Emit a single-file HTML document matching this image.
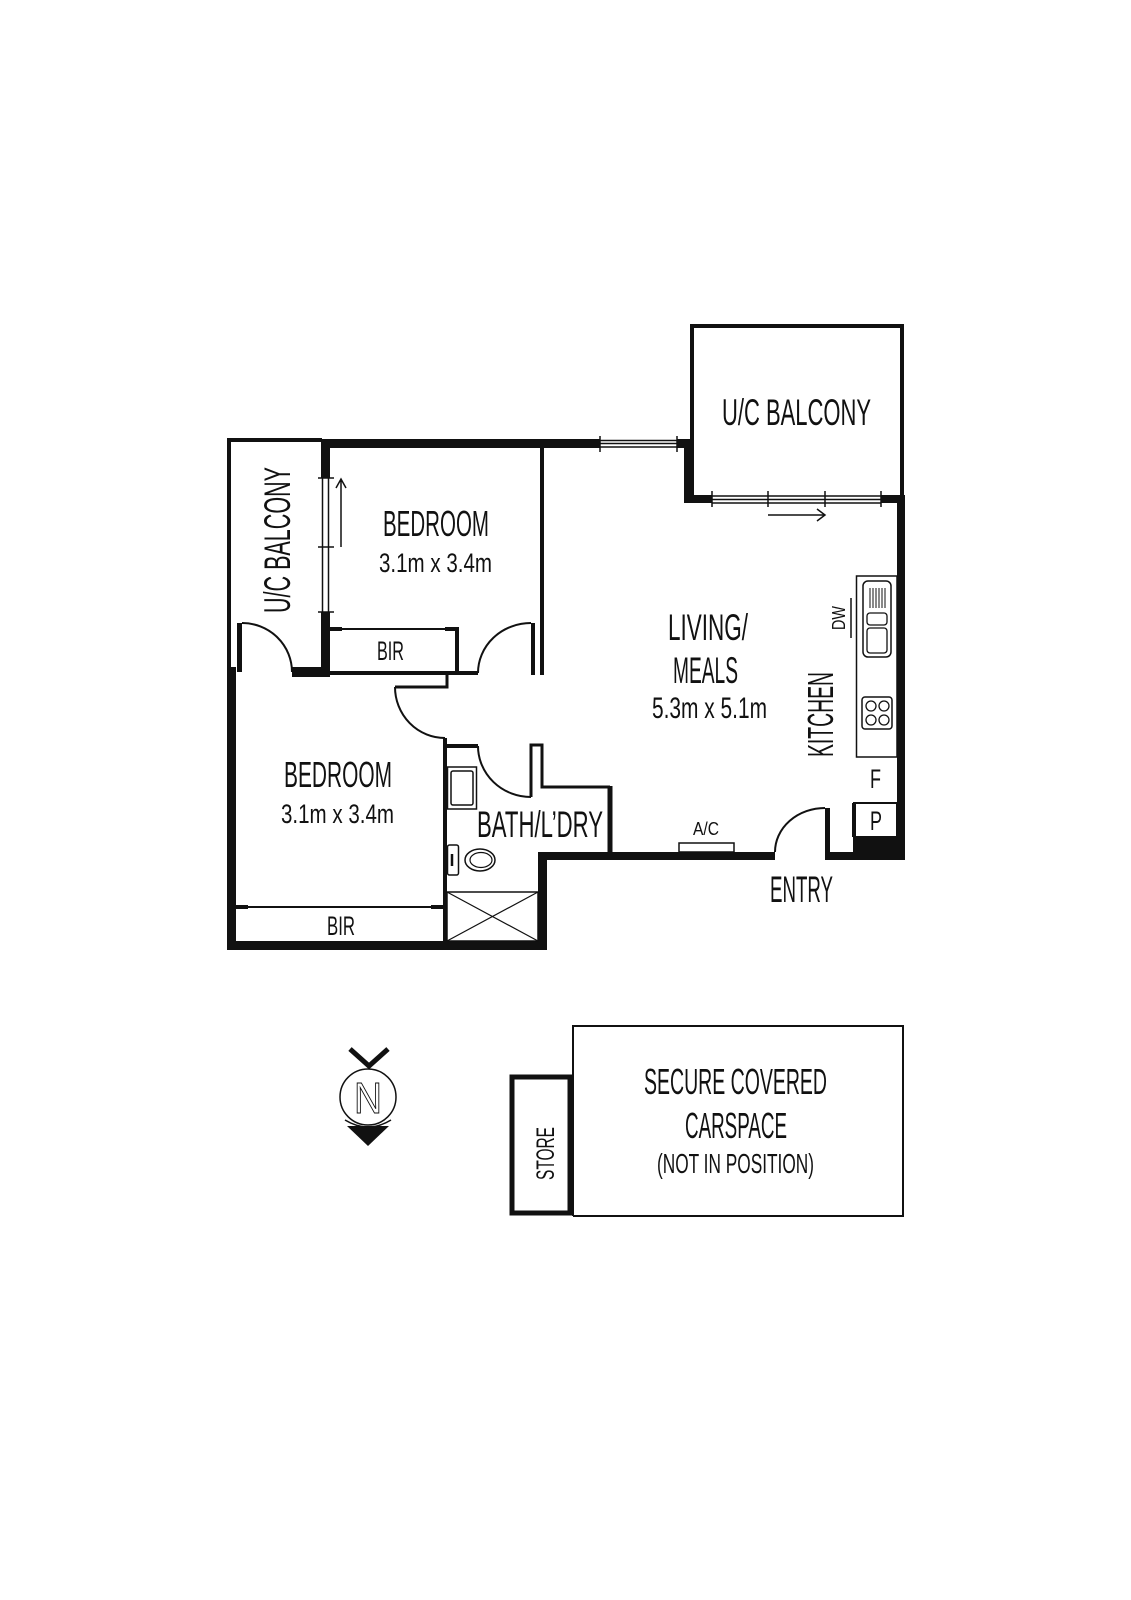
<!DOCTYPE html>
<html><head><meta charset="utf-8"><style>
html,body{margin:0;padding:0;background:#fff;}
svg{display:block;}
text{font-family:"Liberation Sans Narrow","Liberation Sans",sans-serif;fill:#111;}
</style></head><body>
<svg width="1131" height="1600" viewBox="0 0 1131 1600" xmlns="http://www.w3.org/2000/svg">
<rect width="1131" height="1600" fill="#fff"/>
<g fill="#111" stroke="none">
<rect x="321" y="439" width="279" height="9"/>
<rect x="677" y="439" width="17" height="9"/>
<rect x="684" y="439" width="10" height="64"/>
<rect x="684" y="495" width="28" height="8"/>
<rect x="881" y="495" width="24" height="8"/>
<rect x="897" y="495" width="8" height="365"/>
<rect x="321" y="439" width="9" height="39"/>
<rect x="321" y="612" width="9" height="65"/>
<rect x="292" y="667" width="38" height="10"/>
<rect x="227" y="667" width="9" height="283"/>
<rect x="227" y="941" width="320" height="9"/>
<rect x="538" y="852" width="9" height="98"/>
<rect x="538" y="852" width="237" height="8"/>
<rect x="825" y="808" width="5" height="52"/>
<rect x="825" y="852" width="30" height="8"/>
<rect x="853" y="837" width="52" height="23"/>
<rect x="540" y="448" width="4" height="227"/>
<rect x="531" y="623" width="4" height="52"/>
<rect x="443" y="738" width="4" height="206"/>
<rect x="237" y="623" width="5" height="49"/>
</g>
<g fill="none" stroke="#111">
<path d="M229 667 V440 H322" stroke-width="4"/>
<path d="M242 623 A50 49 0 0 1 292 672" stroke-width="2"/>
<line x1="322.5" y1="478" x2="322.5" y2="612" stroke-width="1.5"/>
<line x1="328.5" y1="478" x2="328.5" y2="612" stroke-width="1.5"/>
<line x1="318" y1="478" x2="334" y2="478" stroke-width="1.5"/>
<line x1="318" y1="547" x2="334" y2="547" stroke-width="1.5"/>
<line x1="318" y1="612" x2="334" y2="612" stroke-width="1.5"/>
<path d="M341 547 V479 M336 488 L341 479 L346 488" stroke-width="1.5"/>
<line x1="600" y1="440.5" x2="677" y2="440.5" stroke-width="1.5"/>
<line x1="600" y1="443.5" x2="677" y2="443.5" stroke-width="1.5"/>
<line x1="600" y1="447" x2="677" y2="447" stroke-width="1.5"/>
<line x1="600" y1="436" x2="600" y2="452" stroke-width="1.5"/>
<line x1="677" y1="436" x2="677" y2="452" stroke-width="1.5"/>
<path d="M692 440 V326 H902 V497" stroke-width="4"/>
<line x1="712" y1="496" x2="881" y2="496" stroke-width="1.5"/>
<line x1="712" y1="499.5" x2="881" y2="499.5" stroke-width="1.5"/>
<line x1="712" y1="503" x2="881" y2="503" stroke-width="1.5"/>
<line x1="712" y1="491" x2="712" y2="507" stroke-width="1.5"/>
<line x1="768" y1="491" x2="768" y2="507" stroke-width="1.5"/>
<line x1="825" y1="491" x2="825" y2="507" stroke-width="1.5"/>
<line x1="881" y1="491" x2="881" y2="507" stroke-width="1.5"/>
<path d="M768 515 H825 M817 509 L825 515 L817 521" stroke-width="1.5"/>
<path d="M531 623 A53 50 0 0 0 478 673" stroke-width="2"/>
<line x1="330" y1="673" x2="478" y2="673" stroke-width="4"/>
<line x1="330" y1="629" x2="457" y2="629" stroke-width="2"/>
<line x1="330" y1="629" x2="342" y2="629" stroke-width="4"/>
<line x1="445" y1="629" x2="457" y2="629" stroke-width="4"/>
<line x1="457" y1="627" x2="457" y2="675" stroke-width="4"/>
<path d="M457 673 H447 V687 H395" stroke-width="3"/>
<path d="M395 687 A50 51 0 0 0 445 738" stroke-width="2"/>
<line x1="236" y1="907" x2="443" y2="907" stroke-width="2"/>
<line x1="236" y1="907" x2="248" y2="907" stroke-width="4"/>
<line x1="431" y1="907" x2="443" y2="907" stroke-width="4"/>
<line x1="445" y1="746" x2="478" y2="746" stroke-width="4"/>
<path d="M478 746 A53 51 0 0 0 531 797" stroke-width="2"/>
<path d="M531 797 V745 H542 V787 H610" stroke-width="3"/>
<line x1="610" y1="786" x2="610" y2="853" stroke-width="5"/>
<rect x="447.5" y="767" width="29" height="42" stroke-width="1.5"/>
<rect x="451" y="771" width="22" height="34" rx="2" stroke-width="1.5"/>
<rect x="447.5" y="845" width="11" height="30" rx="2" stroke-width="1.5"/>
<line x1="452" y1="854" x2="452" y2="866" stroke-width="2.5"/>
<ellipse cx="480" cy="860" rx="15" ry="11" stroke-width="1.5"/>
<ellipse cx="481" cy="860" rx="11" ry="7.5" stroke-width="1.2"/>
<rect x="447" y="892" width="91" height="49" stroke-width="1.5"/>
<path d="M447 892 L538 941 M538 892 L447 941" stroke-width="1.2"/>
<rect x="679" y="843" width="55" height="9" fill="#fff" stroke-width="1.5"/>
<path d="M775 852 A50 44 0 0 1 825 808" stroke-width="2"/>
<rect x="854" y="803" width="43" height="34" stroke-width="2"/>
<line x1="854" y1="803" x2="854" y2="837" stroke-width="4"/>
<rect x="856.5" y="576" width="40.5" height="181" stroke-width="1.5"/>
<rect x="863" y="581" width="28" height="76" rx="5" stroke-width="1.5"/>
<path d="M870 588 V608 M873 588 V608 M876 588 V608 M879 588 V608 M882 588 V608 M885 588 V608" stroke-width="1"/>
<rect x="867" y="613" width="20" height="12" rx="3" stroke-width="1.3"/>
<rect x="867" y="628" width="20" height="25" rx="3" stroke-width="1.3"/>
<rect x="862" y="697" width="30" height="32" rx="3" stroke-width="1.5"/>
<circle cx="871" cy="706" r="5" stroke-width="1.3"/>
<circle cx="884" cy="706" r="5" stroke-width="1.3"/>
<circle cx="871" cy="720" r="5" stroke-width="1.3"/>
<circle cx="884" cy="720" r="5" stroke-width="1.3"/>
<line x1="851" y1="598" x2="851" y2="638" stroke-width="1.5"/>
<path d="M573 1216 V1026 H903 V1216 H573" stroke-width="2"/>
<rect x="512" y="1077" width="58" height="136" stroke-width="5"/>
<path d="M350 1049 L369 1066 L388 1049" stroke-width="5"/>
<circle cx="368" cy="1097" r="28" stroke-width="1.5"/>
<path d="M345 1120 Q368 1134 391 1120" stroke-width="1.5"/>
</g>
<path d="M347 1126 L389 1126 L368 1146 Z" fill="#111"/>
<text x="368" y="1113" font-size="44" text-anchor="middle" stroke="#111" stroke-width="1" textLength="28" lengthAdjust="spacingAndGlyphs" style="fill:#fff">N</text>
<text x="722" y="425" font-size="37" textLength="149" lengthAdjust="spacingAndGlyphs">U/C BALCONY</text>
<text transform="translate(290,613) rotate(-90)" font-size="37" textLength="146" lengthAdjust="spacingAndGlyphs">U/C BALCONY</text>
<text x="383" y="536" font-size="36" textLength="106" lengthAdjust="spacingAndGlyphs">BEDROOM</text>
<text x="379" y="572" font-size="27" textLength="113" lengthAdjust="spacingAndGlyphs">3.1m x 3.4m</text>
<text x="377" y="660" font-size="27" textLength="27" lengthAdjust="spacingAndGlyphs">BIR</text>
<text x="284" y="787" font-size="36" textLength="108" lengthAdjust="spacingAndGlyphs">BEDROOM</text>
<text x="281" y="823" font-size="27" textLength="113" lengthAdjust="spacingAndGlyphs">3.1m x 3.4m</text>
<text x="327" y="935" font-size="27" textLength="28" lengthAdjust="spacingAndGlyphs">BIR</text>
<text x="477" y="837" font-size="37" textLength="126" lengthAdjust="spacingAndGlyphs">BATH/L’DRY</text>
<text x="668" y="640" font-size="37" textLength="80" lengthAdjust="spacingAndGlyphs">LIVING/</text>
<text x="673" y="683" font-size="37" textLength="65" lengthAdjust="spacingAndGlyphs">MEALS</text>
<text x="652" y="718" font-size="30" textLength="115" lengthAdjust="spacingAndGlyphs">5.3m x 5.1m</text>
<text transform="translate(833,757) rotate(-90)" font-size="36" textLength="85" lengthAdjust="spacingAndGlyphs">KITCHEN</text>
<text transform="translate(845,630) rotate(-90)" font-size="18" textLength="24" lengthAdjust="spacingAndGlyphs">DW</text>
<text x="870" y="788" font-size="27" textLength="11" lengthAdjust="spacingAndGlyphs">F</text>
<text x="870" y="830" font-size="27" textLength="12" lengthAdjust="spacingAndGlyphs">P</text>
<text x="693" y="835" font-size="18" textLength="26" lengthAdjust="spacingAndGlyphs">A/C</text>
<text x="770" y="902" font-size="37" textLength="63" lengthAdjust="spacingAndGlyphs">ENTRY</text>
<text transform="translate(554,1180) rotate(-90)" font-size="25" textLength="53" lengthAdjust="spacingAndGlyphs">STORE</text>
<text x="644" y="1094" font-size="36" textLength="183" lengthAdjust="spacingAndGlyphs">SECURE COVERED</text>
<text x="685" y="1138" font-size="36" textLength="102" lengthAdjust="spacingAndGlyphs">CARSPACE</text>
<text x="657" y="1173" font-size="28" textLength="157" lengthAdjust="spacingAndGlyphs">(NOT IN POSITION)</text>
</svg>
</body></html>
